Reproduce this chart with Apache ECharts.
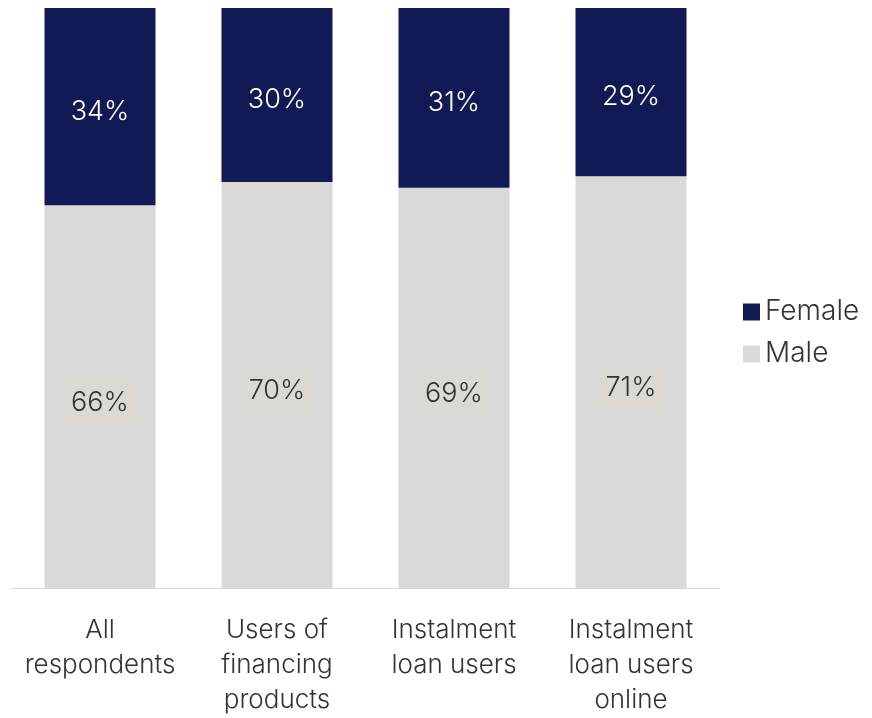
<!DOCTYPE html>
<html><head><meta charset="utf-8">
<script src="https://cdn.jsdelivr.net/npm/echarts@6/dist/echarts.min.js"></script>
<style>html,body{margin:0;padding:0;background:#fff}#c{width:872px;height:718px}</style>
</head><body><div id="c"></div>
<script>
const categories = ["All\nrespondents", "Users of\nfinancing\nproducts", "Instalment\nloan users", "Instalment\nloan users\nonline"];
const maleValues = [66, 70, 69, 71];
const femaleValues = [34, 30, 31, 29];
const chart = echarts.init(document.getElementById('c'));
const font = 'Inter';
chart.setOption({
  animation: false,
  grid: {left: 11.5, right: 152.5, top: 8, bottom: 124, containLabel: false},
  legend: {
    orient: 'vertical', left: 738, top: 293,
    data: ['Female', 'Male'],
    itemWidth: 17, itemHeight: 17, itemGap: 14, icon: 'rect',
    textStyle: {fontFamily: font, fontWeight: 300, fontSize: 28, color: '#333'}
  },
  xAxis: {
    type: 'category', data: categories,
    axisLine: {lineStyle: {color: '#d9d9d9', width: 1}},
    axisTick: {show: false},
    axisLabel: {fontFamily: font, fontWeight: 300, fontSize: 26, color: '#333', lineHeight: 35, margin: 25, interval: 0}
  },
  yAxis: {type: 'value', min: 0, max: 100, show: false, splitLine: {show: false}},
  series: [
    {name: 'Male', type: 'bar', stack: 's', data: maleValues, barWidth: 111,
     itemStyle: {color: '#d9d9d9'},
     label: {show: true, position: 'inside', offset: [0, 6], formatter: '{c}%', fontFamily: font, fontWeight: 300, fontSize: 27,
       color: '#333', backgroundColor: '#dcd9d5', padding: [10, 9, 8, 9]}},
    {name: 'Female', type: 'bar', stack: 's', data: femaleValues, barWidth: 111,
     itemStyle: {color: '#111a54'},
     label: {show: true, position: 'inside', offset: [0, 5], formatter: '{c}%', fontFamily: font, fontWeight: 300, fontSize: 27, color: '#fff'}}
  ]
});
</script></body></html>
